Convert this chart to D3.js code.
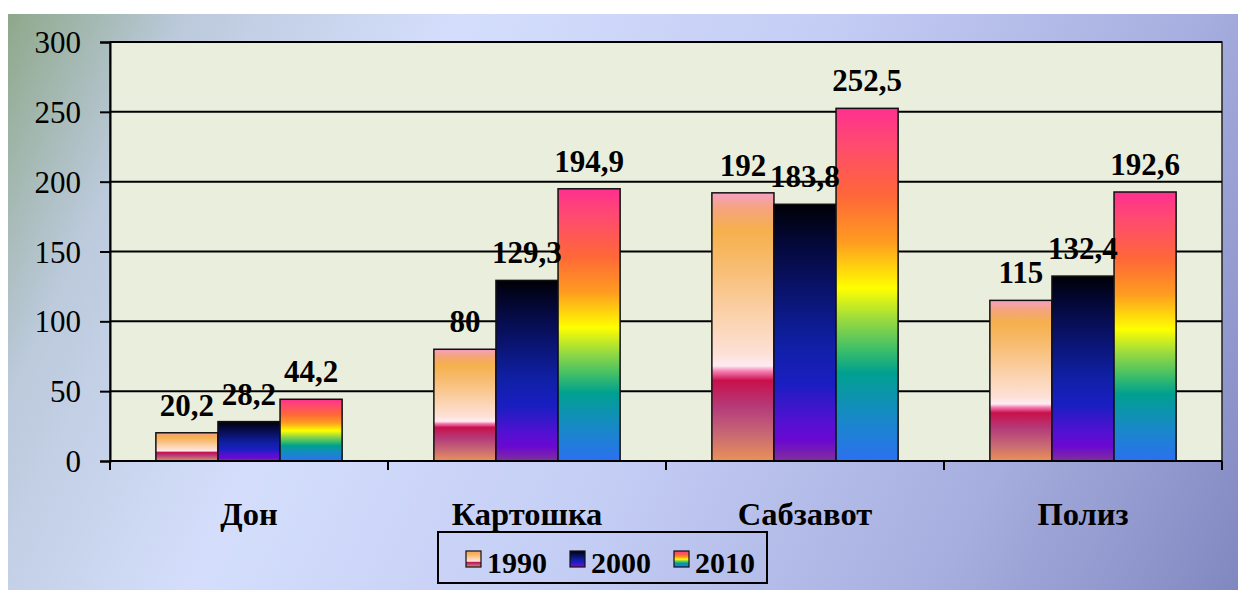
<!DOCTYPE html>
<html>
<head>
<meta charset="utf-8">
<script src="https://cdn.jsdelivr.net/npm/d3@7"></script>
</head>
<body style="margin:0">
<svg id="chart" width="1238" height="590" font-family="Liberation Serif"></svg>
<script>
var categories = ['Дон', 'Картошка', 'Сабзавот', 'Полиз'];
var years = ['1990', '2000', '2010'];
var values1990 = [20.2, 80, 192, 115];
var values2000 = [28.2, 129.3, 183.8, 132.4];
var values2010 = [44.2, 194.9, 252.5, 192.6];
var labels1990 = ['20,2', '80', '192', '115'];
var labels2000 = ['28,2', '129,3', '183,8', '132,4'];
var labels2010 = ['44,2', '194,9', '252,5', '192,6'];
var yTicks = [0, 50, 100, 150, 200, 250, 300];

var FONT = 'Liberation Serif';

var width = 1238;
var height = 590;
var margin = { top: 42, right: 16, bottom: 129, left: 110 };
var innerWidth = width - margin.left - margin.right;
var innerHeight = height - margin.top - margin.bottom;

var series = [
    { key: years[0], values: values1990, labels: labels1990, grad: 'g1990' },
    { key: years[1], values: values2000, labels: labels2000, grad: 'g2000' },
    { key: years[2], values: values2010, labels: labels2010, grad: 'g2010' }
];

var svg = d3.select('#chart');

var defs = svg.append('defs');

// gradient fills, vertical, top to bottom
var gradStops = {
    g1990: [[0, '#f7a0c4'], [0.06, '#f5a47c'], [0.14, '#f6b04c'], [0.3, '#f8bf78'],
            [0.46, '#fbd2ac'], [0.6, '#fde0d6'], [0.645, '#feecf2'], [0.665, '#f780b4'],
            [0.7, '#c8104c'], [0.8, '#b53c7a'], [0.9, '#c86874'], [1, '#ea9258']],
    g2000: [[0, '#000006'], [0.15, '#040838'], [0.35, '#0a1470'], [0.55, '#1020a6'],
            [0.7, '#1a1ec2'], [0.85, '#5510d2'], [0.92, '#6a08d0'], [1, '#80309c']],
    g2010: [[0, '#ff3090'], [0.1, '#ff4a70'], [0.25, '#ff6838'], [0.38, '#ff9c20'],
            [0.51, '#ffff00'], [0.6, '#98da40'], [0.69, '#38bc6c'], [0.75, '#00a090'],
            [0.88, '#1888c8'], [1, '#2c70f0']]
};

Object.keys(gradStops).forEach(function (id) {
    var lg = defs.append('linearGradient')
        .attr('id', id)
        .attr('x1', 0).attr('y1', 0)
        .attr('x2', 0).attr('y2', 1);
    gradStops[id].forEach(function (s) {
        lg.append('stop').attr('offset', s[0]).attr('stop-color', s[1]);
    });
});

var bgGrad = defs.append('linearGradient')
    .attr('id', 'bg')
    .attr('gradientUnits', 'userSpaceOnUse')
    .attr('x1', 8).attr('y1', 14)
    .attr('x2', 1238).attr('y2', 590);
[[0, '#8ea88a'], [0.12, '#bccadc'], [0.3, '#d4defc'], [0.55, '#c4cdf4'],
 [0.8, '#a6aedf'], [1, '#8088c0']].forEach(function (s) {
    bgGrad.append('stop').attr('offset', s[0]).attr('stop-color', s[1]);
});

// chart background
svg.append('rect')
    .attr('x', 8).attr('y', 14)
    .attr('width', width - 8).attr('height', height - 14)
    .attr('fill', 'url(#bg)');

var g = svg.append('g')
    .attr('transform', `translate(${margin.left},${margin.top})`);

var x0 = d3.scaleBand()
    .domain(categories)
    .range([0, innerWidth])
    .paddingInner(0.33)
    .paddingOuter(0.165);

var x1 = d3.scaleBand()
    .domain(years)
    .range([0, x0.bandwidth()]);

var y = d3.scaleLinear()
    .domain([0, 300])
    .range([innerHeight, 0]);

// plot area
g.append('rect')
    .attr('width', innerWidth)
    .attr('height', innerHeight)
    .attr('fill', '#eaeedd')
    .attr('stroke', '#222')
    .attr('stroke-width', 1.5);

// gridlines
g.selectAll('line.grid').data(yTicks)
    .enter().append('line')
    .attr('class', 'grid')
    .attr('x1', 0).attr('x2', innerWidth)
    .attr('y1', d => y(d)).attr('y2', d => y(d))
    .attr('stroke', '#000')
    .attr('stroke-width', 2);

// y axis
var yAxis = g.append('g')
    .call(d3.axisLeft(y).tickValues(yTicks).tickSize(10).tickPadding(19))
    .attr('font-family', FONT);
yAxis.select('.domain').attr('stroke', '#000').attr('stroke-width', 2);
yAxis.selectAll('.tick line').attr('stroke', '#000').attr('stroke-width', 2);
yAxis.selectAll('.tick text')
    .attr('font-family', FONT)
    .attr('font-size', 31)
    .attr('fill', '#000')
    .attr('dy', '0.34em');

// category separators below axis
var step = innerWidth / categories.length;
g.selectAll('line.sep').data(d3.range(categories.length + 1))
    .enter().append('line')
    .attr('class', 'sep')
    .attr('x1', d => d * step).attr('x2', d => d * step)
    .attr('y1', innerHeight).attr('y2', innerHeight + 9)
    .attr('stroke', '#000')
    .attr('stroke-width', 2);

// bars
var groups = g.selectAll('g.cat').data(categories)
    .enter().append('g')
    .attr('class', 'cat')
    .attr('transform', d => `translate(${x0(d)},0)`);

series.forEach(function (s) {
    groups.append('rect')
        .attr('x', x1(s.key))
        .attr('y', (d, i) => y(s.values[i]))
        .attr('width', x1.bandwidth())
        .attr('height', (d, i) => innerHeight - y(s.values[i]))
        .attr('fill', `url(#${s.grad})`)
        .attr('stroke', '#111')
        .attr('stroke-width', 1.5);
});

// x axis line on top of bars
g.append('line')
    .attr('x1', 0).attr('x2', innerWidth)
    .attr('y1', innerHeight).attr('y2', innerHeight)
    .attr('stroke', '#000')
    .attr('stroke-width', 2);

// value labels
series.forEach(function (s) {
    groups.append('text')
        .attr('x', x1(s.key) + x1.bandwidth() / 2)
        .attr('y', (d, i) => y(s.values[i]) - 17)
        .attr('text-anchor', 'middle')
        .attr('font-family', FONT)
        .attr('font-size', 31)
        .attr('font-weight', 'bold')
        .attr('fill', '#000')
        .text((d, i) => s.labels[i]);
});

// category labels
g.selectAll('text.cat').data(categories)
    .enter().append('text')
    .attr('class', 'cat')
    .attr('x', d => x0(d) + x0.bandwidth() / 2)
    .attr('y', innerHeight + 64)
    .attr('text-anchor', 'middle')
    .attr('font-family', FONT)
    .attr('font-size', 32.5)
    .attr('font-weight', 'bold')
    .text(d => d);

// legend
var legend = svg.append('g').attr('transform', 'translate(438,532)');
legend.append('rect')
    .attr('width', 329).attr('height', 51)
    .attr('fill', 'none')
    .attr('stroke', '#000')
    .attr('stroke-width', 2);

var legendX = [28, 132, 236];
series.forEach(function (s, i) {
    var item = legend.append('g').attr('transform', `translate(${legendX[i]},0)`);
    item.append('rect')
        .attr('x', 0).attr('y', 19)
        .attr('width', 15).attr('height', 16)
        .attr('fill', `url(#${s.grad})`)
        .attr('stroke', '#111')
        .attr('stroke-width', 1.2);
    item.append('text')
        .attr('x', 21).attr('y', 41)
        .attr('font-family', FONT)
        .attr('font-size', 30)
        .attr('font-weight', 'bold')
        .text(s.key);
});
</script>
</body>
</html>
